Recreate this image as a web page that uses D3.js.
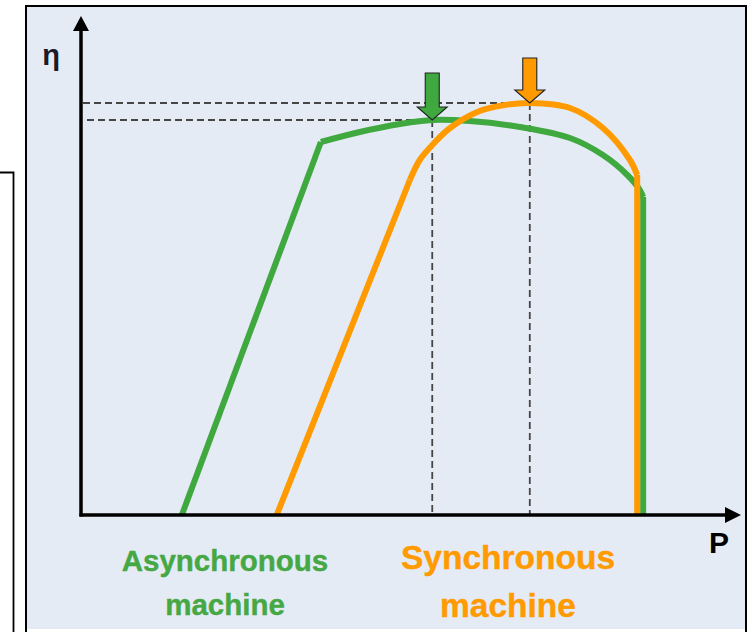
<!DOCTYPE html>
<html>
<head>
<meta charset="utf-8">
<script src="https://cdn.jsdelivr.net/npm/d3@7"></script>
<style>
  html, body { margin: 0; padding: 0; background: #ffffff; }
  svg { display: block; }
  text { font-family: "Liberation Sans", Arial, sans-serif; font-weight: bold; }
</style>
</head>
<body>
<svg id="chart" width="753" height="632"></svg>
<script>
// ---- Data (P in arbitrary units 0..100, efficiency η in arbitrary units 0..100) ----
const asyncP   = [15.3, 36.4, 42.3, 48.4, 53.3, 59.0, 66.6, 74.2, 79.2, 82.9, 84.8, 85.3, 85.3];
const asyncEta = [0,    74.6, 76.6, 78.2, 79.0, 78.8, 77.6, 75.4, 72.0, 68.0, 65.0, 63.6, 0];
const syncP    = [29.7, 49.9, 51.4, 53.3, 56.0, 60.5, 64.3, 68.1, 74.2, 79.2, 83.3, 84.4, 84.4];
const syncEta  = [0,    67.0, 71.0, 74.0, 77.4, 80.8, 82.0, 82.4, 81.4, 77.4, 71.0, 68.0, 0];
const seriesNames = ["Asynchronous\nmachine", "Synchronous\nmachine"];
const axisLabels = ["η", "P"];

const svg = d3.select("#chart");

// frame
svg.append("rect").attr("x", 26).attr("y", 6).attr("width", 720).attr("height", 623)
  .attr("fill", "#e5ebf4");
svg.append("path").attr("d", "M26,632 V6 H746 V632")
  .attr("fill", "none").attr("stroke", "#000").attr("stroke-width", 2);
// partial box at left
svg.append("path").attr("d", "M0,172.5 H13.5 V632")
  .attr("fill", "none").attr("stroke", "#000").attr("stroke-width", 1.8);

const x = d3.scaleLinear().domain([0, 100]).range([81, 740]);
const y = d3.scaleLinear().domain([0, 100]).range([515, 15]);

const GREEN = "#3fa83f", ORANGE = "#ff9a00";

// dashed guide lines to peaks
function peak(P, E) { const i = d3.maxIndex(E); return [P[i], E[i]]; }
const peaks = [peak(asyncP, asyncEta), peak(syncP, syncEta)];
const guides = svg.append("g").attr("stroke", "#454545").attr("stroke-width", 1.8)
  .attr("stroke-dasharray", "7,4").attr("fill", "none");
peaks.forEach(([p, e], k) => {
  guides.append("line").attr("x1", x(0) + (k === 0 ? 6 : 2)).attr("x2", x(p))
    .attr("y1", y(e)).attr("y2", y(e));
  guides.append("line").attr("x1", x(p)).attr("x2", x(p))
    .attr("y1", y(e)).attr("y2", y(0));
});

// curves
function drawSeries(P, E, color) {
  const pts = P.map((p, i) => [x(p), y(E[i])]);
  const n = pts.length;
  const lin = d3.line();
  const cur = d3.line().curve(d3.curveCatmullRom.alpha(0.5));
  const g = svg.append("g").attr("fill", "none").attr("stroke", color)
    .attr("stroke-width", 6).attr("stroke-linejoin", "round");
  g.append("path").attr("d", lin(pts.slice(0, 2)));
  g.append("path").attr("d", cur(pts.slice(1, n - 1)));
  g.append("path").attr("d", lin(pts.slice(n - 2)));
}
drawSeries(asyncP, asyncEta, GREEN);
drawSeries(syncP, syncEta, ORANGE);

// axes with arrows
const axes = svg.append("g");
axes.append("line").attr("x1", x(0)).attr("x2", x(0)).attr("y1", y(0) + 1.5).attr("y2", 28)
  .attr("stroke", "#000").attr("stroke-width", 3.5);
axes.append("path").attr("d", `M${x(0)},16 L${x(0) - 8},31 L${x(0) + 8},31 Z`).attr("fill", "#000");
axes.append("line").attr("x1", x(0) - 1.5).attr("x2", 728).attr("y1", y(0)).attr("y2", y(0))
  .attr("stroke", "#000").attr("stroke-width", 3.5);
axes.append("path").attr("d", `M741,${y(0)} L725,${y(0) - 8} L725,${y(0) + 8} Z`).attr("fill", "#000");

// arrows pointing at peaks
function downArrow(tx, ty, len, color) {
  const sw = 7, hw = 15, hh = 13;
  const d = `M${tx - sw},${ty - len} H${tx + sw} V${ty - hh} H${tx + hw} L${tx},${ty} L${tx - hw},${ty - hh} H${tx - sw} Z`;
  svg.append("path").attr("d", d).attr("fill", color).attr("stroke", "#222").attr("stroke-width", 1.1);
}
downArrow(x(peaks[0][0]), y(peaks[0][1]), 47, GREEN);
downArrow(x(peaks[1][0]), y(peaks[1][1]), 45, ORANGE);

// axis labels
svg.append("text").attr("x", 51).attr("y", 65).attr("text-anchor", "middle")
  .attr("font-size", 29).attr("fill", "#1a1a2a").text(axisLabels[0]);
svg.append("text").attr("x", 719).attr("y", 553).attr("text-anchor", "middle")
  .attr("font-size", 30).attr("fill", "#000").text(axisLabels[1]);

// series labels
function label(txt, cx, y1, y2, size, color) {
  const [a, b] = txt.split("\n");
  const t = svg.append("text").attr("text-anchor", "middle").attr("font-size", size)
    .attr("fill", color).attr("stroke", color).attr("stroke-width", 0.4);
  t.append("tspan").attr("x", cx).attr("y", y1).text(a);
  t.append("tspan").attr("x", cx).attr("y", y2).text(b);
}
label(seriesNames[0], 225, 571, 615, 29.5, "#45a844");
label(seriesNames[1], 508, 569, 617, 33.5, ORANGE);
</script>
</body>
</html>
